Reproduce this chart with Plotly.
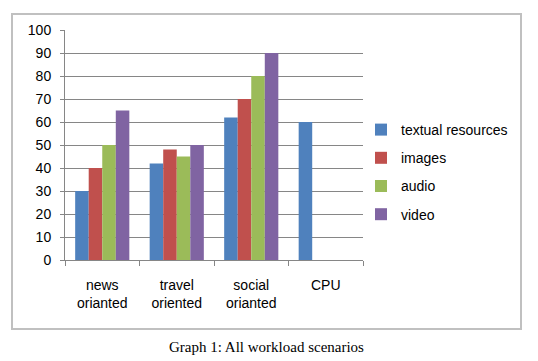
import plotly.graph_objects as go

categories = ["news<br>orianted", "travel<br>oriented", "social<br>orianted", "CPU"]
series_names = ["textual resources", "images", "audio", "video"]
textual = [30, 42, 62, 60]
images = [40, 48, 70, None]
audio = [50, 45, 80, None]
video = [65, 50, 90, None]
colors = ["#4f81bd", "#c0504d", "#9bbb59", "#8064a2"]
y_ticks = [0, 10, 20, 30, 40, 50, 60, 70, 80, 90, 100]
caption = "Graph 1: All workload scenarios"

fig = go.Figure()
for name, vals, c in zip(series_names, [textual, images, audio, video], colors):
    fig.add_trace(go.Bar(x=categories, y=vals, name=name, legendgroup=name,
                         marker=dict(color=c, line=dict(width=0))))

W, H = 538, 361
L, R, T, B = 65, 538 - 363, 30, 361 - 260
pw, ph = W - L - R, H - T - B

def px(x):
    return (x - L) / pw

def py(y):
    return (H - B - y) / ph

fig.update_layout(
    width=W, height=H,
    margin=dict(l=L, r=R, t=T, b=B),
    paper_bgcolor="white", plot_bgcolor="white",
    barmode="group", bargap=0.273, bargroupgap=0,
    font=dict(family="Liberation Sans, Arial, sans-serif", size=14, color="black"),
    showlegend=True,
    legend=dict(x=px(361), y=py(114), xanchor="left", yanchor="top",
                font=dict(size=14), tracegroupgap=7, itemwidth=30,
                bgcolor="rgba(0,0,0,0)"),
    xaxis=dict(showgrid=False, showline=True, linecolor="#868686", linewidth=1,
               ticks="outside", ticklen=5, tickcolor="#868686",
               tickson="boundaries", ticklabelstandoff=12),
    yaxis=dict(range=[0, 100], tickvals=y_ticks, showgrid=True, gridcolor="#868686",
               gridwidth=1, showline=True, linecolor="#868686", linewidth=1,
               ticks="outside", ticklen=4, tickcolor="#868686", zeroline=False,
               ticklabelstandoff=6, fixedrange=True),
    shapes=[dict(type="rect", xref="paper", yref="paper",
                 x0=px(12), x1=px(521), y0=py(329), y1=py(14),
                 line=dict(color="#c0c0c0", width=2), fillcolor="rgba(0,0,0,0)", layer="below")],
    annotations=[dict(text=caption, xref="paper", yref="paper", x=px(266), y=py(347),
                      xanchor="center", yanchor="middle", showarrow=False,
                      font=dict(family="Liberation Serif, Times New Roman, serif", size=15, color="black"))],
)

fig.write_html("out.html", config={"displayModeBar": False},
               post_script="document.body.style.margin='0';")
